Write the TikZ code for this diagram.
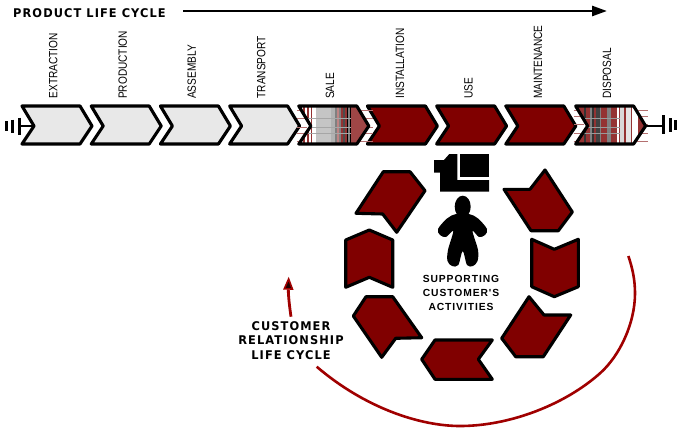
\documentclass[tikz,border=0pt]{standalone}
\usepackage{fontspec}
\usepackage{tikz}
\usetikzlibrary{arrows.meta}
\newfontfamily\labfont[FakeStretch=0.84]{Liberation Sans}
\newfontfamily\comicfont[LetterSpace=9,FakeStretch=0.95]{DejaVu Sans}
\newfontfamily\suppfont[LetterSpace=9]{Liberation Sans}
\definecolor{maroon}{HTML}{800000}
\definecolor{arcred}{HTML}{A00000}
\definecolor{chevgray}{HTML}{E8E8E8}
\definecolor{brick}{HTML}{943232}
\newcommand{\chevpath}{(0,106) -- (58,106) -- (70,126) -- (58,144) -- (0,144) -- (12,126) -- cycle}
\tikzset{
    outline/.style={draw=black,line width=3.1pt,line join=round},
    chevlight/.style={outline,fill=chevgray},
    chevdark/.style={outline,fill=maroon},
    steplab/.style={rotate=90,anchor=west,inner sep=0pt,font=\labfont\fontsize{12}{12}\selectfont},
    cyclelab/.style={align=center,inner sep=0pt,font=\comicfont\bfseries\fontsize{12}{14.5}\selectfont},
    supplab/.style={align=center,inner sep=0pt,font=\suppfont\bfseries\fontsize{10.3}{14}\selectfont},
    stub/.style={draw=black,line width=2.6pt},
    bar/.style={draw=black,line width=3pt},
    tick/.style={draw=brick!70,line width=.4pt}
}

\begin{document}
\begin{tikzpicture}[x=1pt,y=-1pt]
    \useasboundingbox (0,0) rectangle (679,428);
    % product arrow
    \node[cyclelab,anchor=west] (title) at(13,13.5){PRODUCT LIFE CYCLE};
    \coordinate (arrowstart) at(183,11);
    \coordinate (arrowend) at(607,11);
    \draw[line width=2.6pt,-{Triangle[length=15pt,width=10pt]}] (arrowstart) -- (arrowend);
    % plain chevrons
    \foreach \x in {22,91.2,160.4,229.6}
        \draw[chevlight,shift={(\x,0)}] \chevpath;
    \foreach \x in {367.4,436.6,505.8}
        \draw[chevdark,shift={(\x,0)}] \chevpath;
    % sale
    \begin{scope}[shift={(298.8,0)}]
        \foreach \y in {110,118,127,133,141}{
            \draw[tick] (-2,\y) -- (8,\y);
            \draw[tick] (60,\y) -- (74,\y);
        }
        \clip \chevpath;
        \fill[white] (0,106) rectangle (17,144);
        \fill[chevgray!85!black] (17,106) rectangle (32,144);
        \fill[brick!90!white] (52,106) rectangle (70,144);
        \foreach \a/\b/\c in {4/6/brick,8/10/brick,12/13/brick,32/36/gray!60,36/38/gray,
            38/40/brick!60,40/42/gray,42/44/brick,44/46/black!70,46/48/brick,48/49/black,
            49/51/gray,51/52/black}
            \fill[\c] (\a,106) rectangle (\b,144);
        \foreach \y in {118,127,133}
            \draw[black!35,line width=.5pt] (0,\y) -- (52,\y);
    \end{scope}
    \draw[outline,shift={(298.8,0)}] \chevpath;
    % disposal
    \begin{scope}[shift={(575.6,0)}]
        \foreach \y in {110,116,124,133,141}{
            \draw[tick] (-2,\y) -- (8,\y);
            \draw[tick] (60,\y) -- (72,\y);
        }
        \clip \chevpath;
        \fill[white] (0,106) rectangle (70,144);
        \foreach \a/\b/\c in {0/8/brick,8/10/black!80,10/14/brick,14/16/gray,16/18/black!80,
            18/20/brick,20/24/black!75,24/25/gray,25/31/brick,31/35/gray,35/41/brick,
            43/44/brick,44/48/gray!30,48/50/brick,50/55/gray!20,55/56/brick,62/70/brick}
            \fill[\c] (\a,106) rectangle (\b,144);
        \foreach \y in {118,127,133}
            \draw[black!40,line width=.5pt] (0,\y) -- (44,\y);
    \end{scope}
    \draw[outline,shift={(575.6,0)}] \chevpath;
    % step labels
    \node[steplab] (extraction) at(53.3,98.5){EXTRACTION};
    \node[steplab] (production) at(122.7,99){PRODUCTION};
    \node[steplab] (assembly) at(191.7,99){ASSEMBLY};
    \node[steplab] (transport) at(261.3,98.5){TRANSPORT};
    \node[steplab] (sale) at(330,99){SALE};
    \node[steplab] (installation) at(400,99){INSTALLATION};
    \node[steplab] (use) at(468.5,99){USE};
    \node[steplab] (maintenance) at(538,99){MAINTENANCE};
    \node[steplab] (disposal) at(607,99){DISPOSAL};
    % ends of the chain
    \coordinate (leftstub) at(19,126);
    \coordinate (leftnotch) at(34,126);
    \coordinate (rightstub) at(663,126);
    \coordinate (righttip) at(646,126);
    \draw[stub] (leftstub) -- (leftnotch);
    \draw[stub] (righttip) -- (rightstub);
    \draw[bar] (19,117.5) -- (19,134.5);
    \draw[bar] (12.7,119.5) -- (12.7,132.5);
    \draw[bar] (6.7,121) -- (6.7,131);
    \draw[bar] (663,115) -- (663,133.5);
    \draw[bar] (670,118) -- (670,132);
    \draw[bar] (675.5,120) -- (675.5,130);
    % customer ring
    \draw[chevdark] (383.3,171.7) -- (410,171.7) -- (425,190.7) -- (396.7,232.3) -- (382.7,214) -- (356,213.3) -- cycle;
    \draw[chevdark] (504,189.3) -- (530,189.3) -- (545,170) -- (572.3,212) -- (558.3,230.7) -- (531,230.7) -- cycle;
    \draw[chevdark] (531.7,239.3) -- (554.3,249.3) -- (578.3,239.3) -- (578.3,286.7) -- (554.3,296.7) -- (531.7,286.7) -- cycle;
    \draw[chevdark] (529,296.7) -- (544,315) -- (570.7,315) -- (543.3,356.7) -- (515.7,356.7) -- (501.7,338.3) -- cycle;
    \draw[chevdark] (435,340) -- (492.3,340) -- (478.3,359.3) -- (492.3,379.3) -- (435,379.3) -- (421.7,359.3) -- cycle;
    \draw[chevdark] (366,296.7) -- (392.7,296.7) -- (421.7,337.7) -- (395.7,338.3) -- (381.7,357.3) -- (353.3,316) -- cycle;
    \draw[chevdark] (345.7,240) -- (369.3,230) -- (392.7,240) -- (392.7,287.3) -- (369.3,277.3) -- (345.7,287.3) -- cycle;
    % icon and person
    \fill[black] (434,160) -- (444,160) -- (449.3,154) -- (457.3,154) -- (457.3,180) -- (489,180) -- (489,191.7) -- (440,191.7) -- (440,172.7) -- (434,172.7) -- cycle;
    \fill[black] (460,154) rectangle (489,177.3);
    \fill[black] (462.7,206.7) ellipse (8 and 11);
    \fill[black] plot[smooth cycle,tension=.55] coordinates {(456,214) (469,214) (478,218.5) (487,229) (485,235) (479,237) (472.5,231) (478,250) (477.5,261) (473,266) (467,265) (462.7,251) (458.3,265) (452,266) (447.5,261) (448,250) (453.3,231) (446,237) (440,235) (438,229) (447,218.5)};
    \node[supplab] (supporting) at(461,293){SUPPORTING\\CUSTOMER'S\\ACTIVITIES};
    % customer cycle
    \node[cyclelab] (customer) at(291,340.5){CUSTOMER\\RELATIONSHIP\\LIFE CYCLE};
    \coordinate (arcstart) at(628.3,256);
    \coordinate (arcend) at(316.7,366.7);
    \draw[arcred,line width=2.6pt] (arcstart) .. controls (632.5,268) and (635,280) .. (635,293.3) .. controls (635,323) and (620,355.5) .. (600,373.3) .. controls (565,404.5) and (510,426) .. (460,426) .. controls (420,426) and (365,408) .. (arcend);
    \coordinate (backstart) at(291,316.7);
    \coordinate (backend) at(288.7,276.7);
    \draw[arcred,line width=2.8pt,-{Triangle[length=13pt,width=10pt,fill=black!75!maroon,line width=1.6pt]}] (backstart) to[bend left=5] (backend);
\end{tikzpicture}
\end{document}
